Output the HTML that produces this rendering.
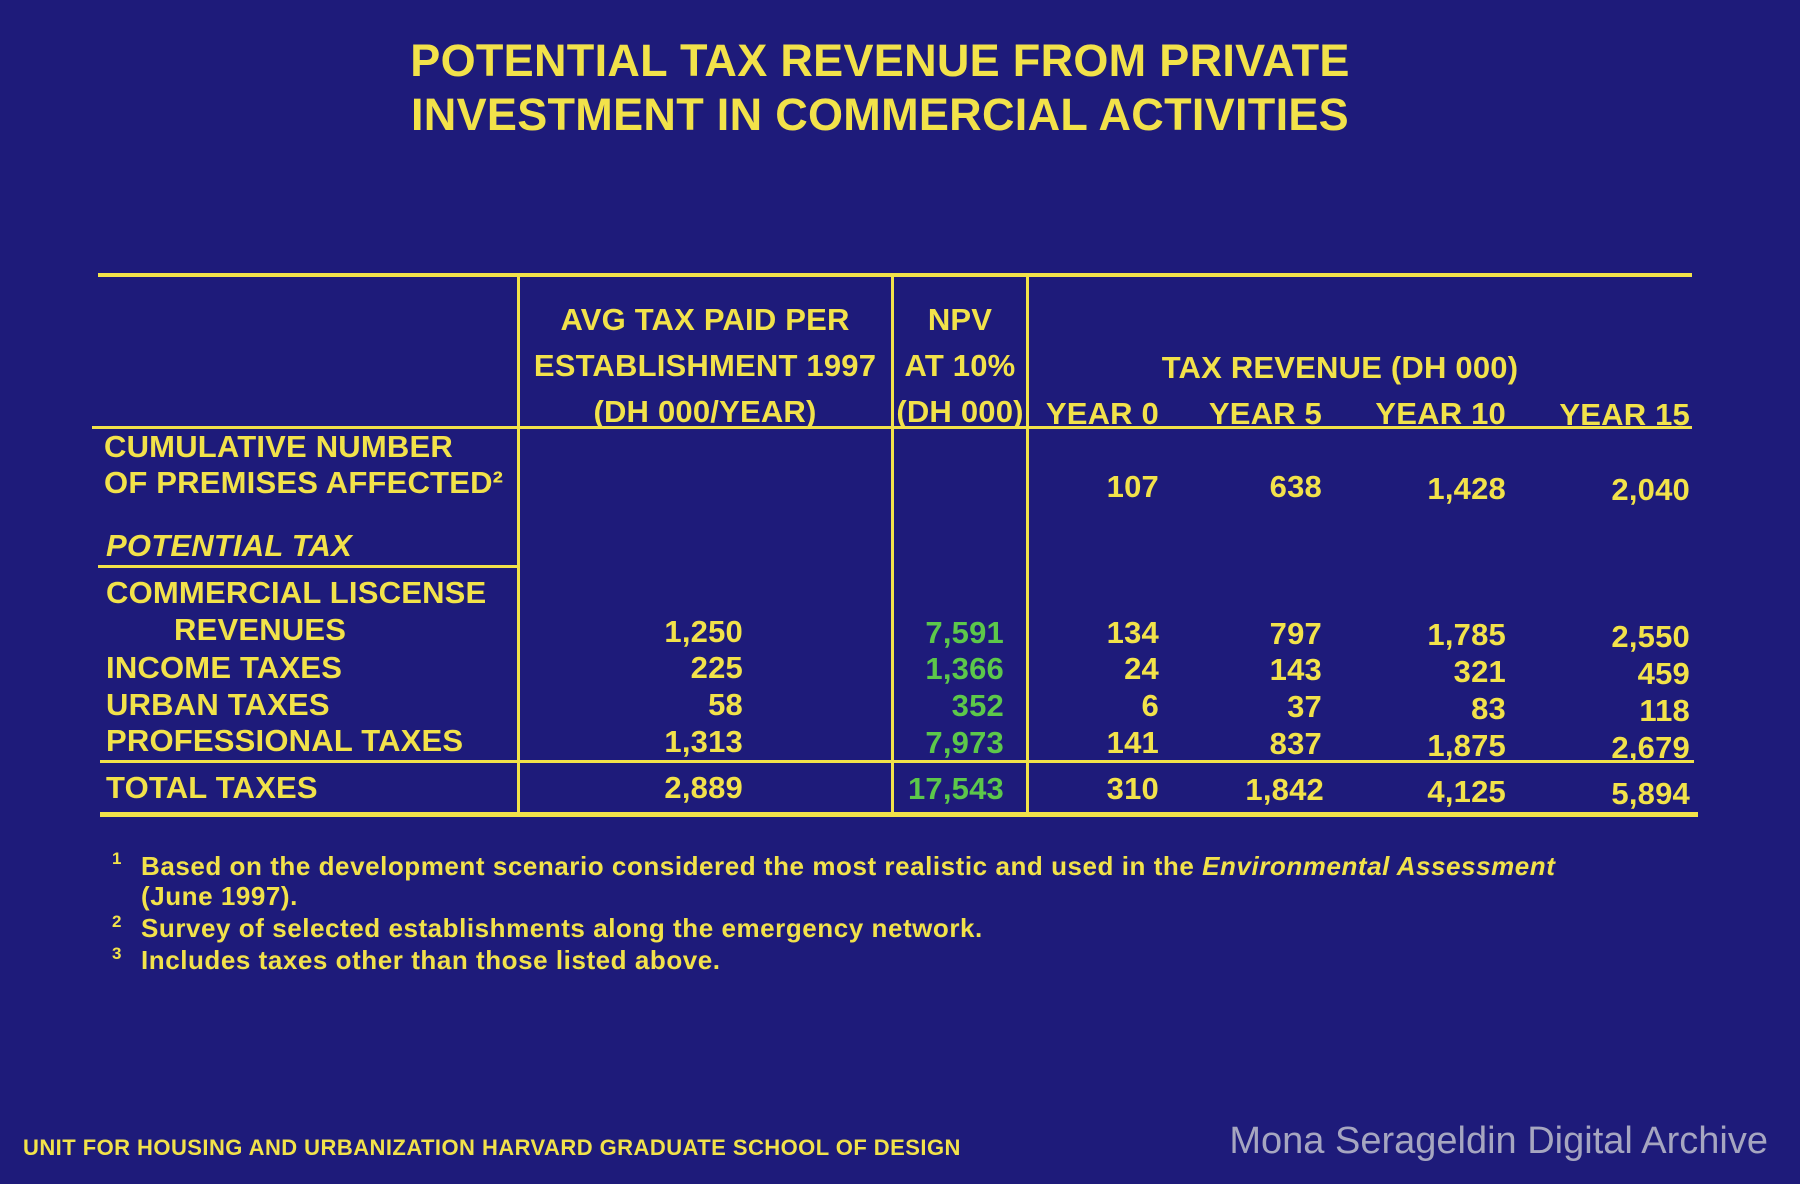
<!DOCTYPE html>
<html><head><meta charset="utf-8"><style>
html,body{margin:0;padding:0}
body{width:1800px;height:1184px;background:#1e1b7a;position:relative;overflow:hidden;font-family:"Liberation Sans",sans-serif;font-weight:bold;color:#f2e24a}
.t{position:absolute;white-space:nowrap;font-size:31px;letter-spacing:0.2px;line-height:1}
.r{text-align:right}
.c{text-align:center}
.g{color:#5cc84a}
.ln{position:absolute;background:#f2e24a}
.fn{position:absolute;font-size:26px;white-space:nowrap;letter-spacing:0.55px;line-height:1}
</style></head><body>
<div class="t c" style="left:0;width:1760px;top:38px;font-size:45px;letter-spacing:0.3px">POTENTIAL TAX REVENUE FROM PRIVATE</div>
<div class="t c" style="left:0;width:1760px;top:92px;font-size:45px;letter-spacing:0.3px">INVESTMENT IN COMMERCIAL ACTIVITIES</div>

<div class="ln" style="left:98px;top:273px;width:1594px;height:4px"></div>
<div class="ln" style="left:92px;top:426px;width:1600px;height:3px"></div>
<div class="ln" style="left:98px;top:565px;width:420px;height:3px"></div>
<div class="ln" style="left:100px;top:760px;width:1594px;height:3px"></div>
<div class="ln" style="left:100px;top:812px;width:1598px;height:5px"></div>
<div class="ln" style="left:517px;top:276px;width:3px;height:539px"></div>
<div class="ln" style="left:891px;top:276px;width:3px;height:539px"></div>
<div class="ln" style="left:1026px;top:276px;width:3px;height:539px"></div>

<div class="t c" style="left:520px;width:370px;top:304px">AVG TAX PAID PER</div>
<div class="t c" style="left:520px;width:370px;top:350px">ESTABLISHMENT 1997</div>
<div class="t c" style="left:520px;width:370px;top:396px">(DH 000/YEAR)</div>
<div class="t c" style="left:893px;width:134px;top:304px">NPV</div>
<div class="t c" style="left:893px;width:134px;top:350px">AT 10%</div>
<div class="t c" style="left:893px;width:134px;top:396px">(DH 000)</div>
<div class="t c" style="left:1040px;width:600px;top:352px">TAX REVENUE (DH 000)</div>
<div class="t r" style="left:1000px;width:159px;top:398px">YEAR 0</div>
<div class="t r" style="left:1160px;width:162px;top:398px">YEAR 5</div>
<div class="t r" style="left:1300px;width:206px;top:398px">YEAR 10</div>
<div class="t r" style="left:1500px;width:190px;top:399px">YEAR 15</div>

<div class="t" style="left:104px;top:431px">CUMULATIVE NUMBER</div>
<div class="t" style="left:104px;top:467px">OF PREMISES AFFECTED²</div>
<div class="t" style="left:106px;top:530px;font-style:italic">POTENTIAL TAX</div>
<div class="t" style="left:106px;top:577px">COMMERCIAL LISCENSE</div>
<div class="t" style="left:174px;top:614px">REVENUES</div>
<div class="t" style="left:106px;top:652px">INCOME TAXES</div>
<div class="t" style="left:106px;top:689px">URBAN TAXES</div>
<div class="t" style="left:106px;top:725px">PROFESSIONAL TAXES</div>
<div class="t" style="left:106px;top:772px">TOTAL TAXES</div>

<div class="t r" style="left:1000px;width:159px;top:471px">107</div>
<div class="t r" style="left:1160px;width:162px;top:471px">638</div>
<div class="t r" style="left:1300px;width:206px;top:473px">1,428</div>
<div class="t r" style="left:1500px;width:190px;top:474px">2,040</div>

<div class="t r" style="left:600px;width:143px;top:616px">1,250</div>
<div class="t r" style="left:600px;width:143px;top:652px">225</div>
<div class="t r" style="left:600px;width:143px;top:689px">58</div>
<div class="t r" style="left:600px;width:143px;top:726px">1,313</div>
<div class="t r" style="left:600px;width:143px;top:772px">2,889</div>

<div class="t r g" style="left:880px;width:124px;top:617px">7,591</div>
<div class="t r g" style="left:880px;width:124px;top:653px">1,366</div>
<div class="t r g" style="left:880px;width:124px;top:690px">352</div>
<div class="t r g" style="left:880px;width:124px;top:727px">7,973</div>
<div class="t r g" style="left:880px;width:124px;top:773px">17,543</div>

<div class="t r" style="left:1000px;width:159px;top:617px">134</div>
<div class="t r" style="left:1000px;width:159px;top:653px">24</div>
<div class="t r" style="left:1000px;width:159px;top:690px">6</div>
<div class="t r" style="left:1000px;width:159px;top:727px">141</div>
<div class="t r" style="left:1000px;width:159px;top:773px">310</div>

<div class="t r" style="left:1160px;width:162px;top:618px">797</div>
<div class="t r" style="left:1160px;width:162px;top:654px">143</div>
<div class="t r" style="left:1160px;width:162px;top:691px">37</div>
<div class="t r" style="left:1160px;width:162px;top:728px">837</div>
<div class="t r" style="left:1140px;width:184px;top:774px">1,842</div>

<div class="t r" style="left:1300px;width:206px;top:619px">1,785</div>
<div class="t r" style="left:1300px;width:206px;top:656px">321</div>
<div class="t r" style="left:1300px;width:206px;top:693px">83</div>
<div class="t r" style="left:1300px;width:206px;top:730px">1,875</div>
<div class="t r" style="left:1300px;width:206px;top:776px">4,125</div>

<div class="t r" style="left:1500px;width:190px;top:621px">2,550</div>
<div class="t r" style="left:1500px;width:190px;top:658px">459</div>
<div class="t r" style="left:1500px;width:190px;top:695px">118</div>
<div class="t r" style="left:1500px;width:190px;top:732px">2,679</div>
<div class="t r" style="left:1500px;width:190px;top:778px">5,894</div>

<div class="fn" style="left:112px;top:850px;font-size:17px">1</div>
<div class="fn" style="left:141px;top:853px">Based on the development scenario considered the most realistic and used in the <i>Environmental Assessment</i></div>
<div class="fn" style="left:141px;top:883px">(June 1997).</div>
<div class="fn" style="left:112px;top:913px;font-size:17px">2</div>
<div class="fn" style="left:141px;top:915px">Survey of selected establishments along the emergency network.</div>
<div class="fn" style="left:112px;top:945px;font-size:17px">3</div>
<div class="fn" style="left:141px;top:947px">Includes taxes other than those listed above.</div>

<div class="fn" style="left:23px;top:1137px;font-size:22px;letter-spacing:0.45px">UNIT FOR HOUSING AND URBANIZATION HARVARD GRADUATE SCHOOL OF DESIGN</div>
<div class="fn" style="right:32px;top:1122px;font-size:38px;font-weight:normal;color:#a6a6c0;letter-spacing:0">Mona Serageldin Digital Archive</div>
</body></html>
